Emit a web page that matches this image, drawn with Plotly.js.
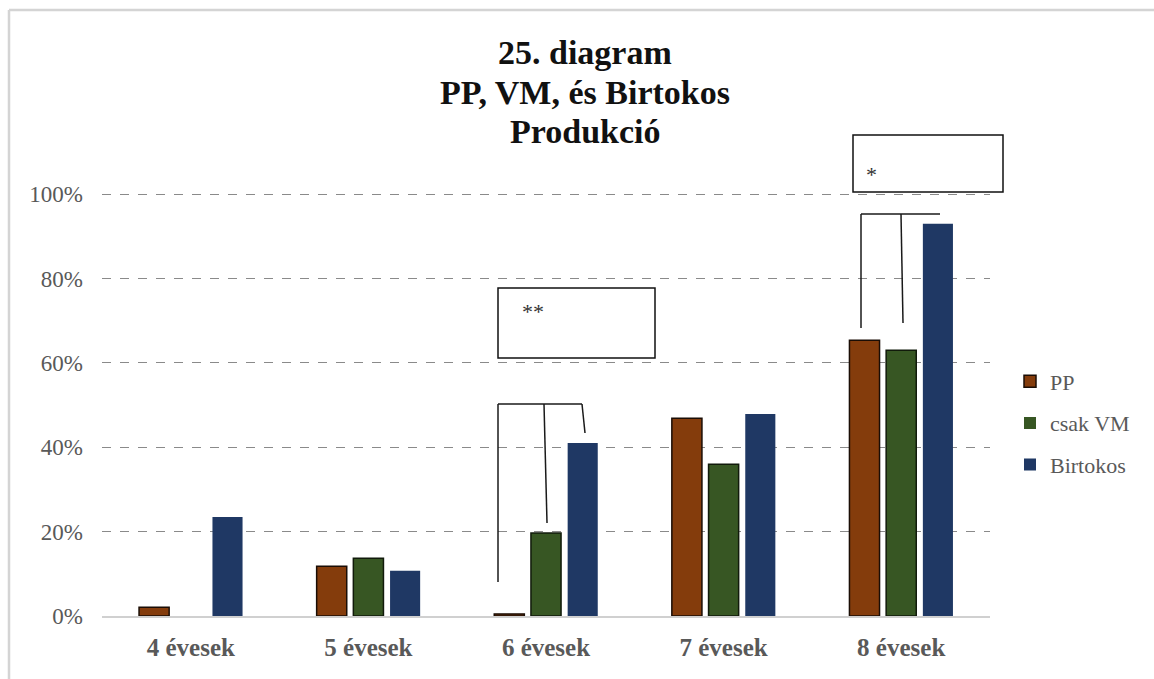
<!DOCTYPE html>
<html>
<head>
<meta charset="utf-8">
<script src="https://cdn.plot.ly/plotly-3.0.1.min.js"></script>
<style>html,body{margin:0;padding:0;background:#fff;}#chart{width:1154px;height:679px;}</style>
</head>
<body>
<div id="chart"></div>
<script>
const categories = ["4 évesek", "5 évesek", "6 évesek", "7 évesek", "8 évesek"];
const seriesNames = ["PP", "csak VM", "Birtokos"];
const ppValues = [0.021, 0.118, 0.005, 0.469, 0.654];
const vmValues = [0.0, 0.137, 0.197, 0.360, 0.630];
const birtokosValues = [0.235, 0.107, 0.410, 0.479, 0.930];
const yTickValues = [0, 0.2, 0.4, 0.6, 0.8, 1.0];
const titleLines = ["25. diagram", "PP, VM, és Birtokos", "Produkció"];

const colors = ["#843C0C", "#375623", "#1F3864"];
const outlineColors = ["#1a0d05", "#111a0b", "#1F3864"];
const outlineWidths = [1.5, 1.5, 0];
const allValues = [ppValues, vmValues, birtokosValues];

const traces = allValues.map((vals, i) => ({
  type: "bar",
  name: seriesNames[i],
  x: categories,
  y: vals,
  legendgroup: "g" + i,
  marker: {
    color: colors[i],
    line: {color: outlineColors[i], width: vals.map(v => v > 0 ? outlineWidths[i] : 0)}
  },
  hoverinfo: "x+y+name"
}));

const lineStyle = {color: "#1a1a1a", width: 1.5};
// plot area in px: x 102..990, y 131..616
const L = 102, R = 990, T = 131, B = 616;
const px = v => (v - L) / (R - L);
const py = v => (B - v) / (B - T);

const shapes = [
  {type: "line", xref: "paper", yref: "paper", x0: px(9), x1: px(1160), y0: py(10), y1: py(10), line: {color: "#d4d4d4", width: 2.5}},
  {type: "line", xref: "paper", yref: "paper", x0: px(9), x1: px(9), y0: py(10), y1: py(690), line: {color: "#d4d4d4", width: 2.5}},
  {type: "rect", xref: "paper", yref: "paper", x0: px(498), x1: px(655), y0: py(288), y1: py(358), line: {color: "#111", width: 1.5}, fillcolor: "#ffffff"},
  {type: "line", xref: "paper", yref: "paper", x0: px(498), x1: px(582), y0: py(404), y1: py(404), line: lineStyle},
  {type: "line", xref: "paper", yref: "paper", x0: px(498), x1: px(498), y0: py(404), y1: py(582), line: lineStyle},
  {type: "line", xref: "paper", yref: "paper", x0: px(544), x1: px(547), y0: py(404), y1: py(523), line: lineStyle},
  {type: "line", xref: "paper", yref: "paper", x0: px(582), x1: px(585), y0: py(404), y1: py(433), line: lineStyle},
  {type: "rect", xref: "paper", yref: "paper", x0: px(853), x1: px(1003), y0: py(135), y1: py(192), line: {color: "#111", width: 1.5}, fillcolor: "#ffffff"},
  {type: "line", xref: "paper", yref: "paper", x0: px(861), x1: px(940), y0: py(214), y1: py(214), line: lineStyle},
  {type: "line", xref: "paper", yref: "paper", x0: px(861), x1: px(861), y0: py(214), y1: py(328), line: lineStyle},
  {type: "line", xref: "paper", yref: "paper", x0: px(901), x1: px(903), y0: py(214), y1: py(323), line: lineStyle}
];

const titleFont = {family: "Liberation Serif, Times New Roman, serif", size: 34, color: "#111", weight: "bold"};
const titleCenters = [53, 92, 131];
const annotations = titleLines.map((t, i) => ({
  xref: "paper", yref: "paper", x: px(585), y: py(titleCenters[i]), xanchor: "center", yanchor: "middle",
  text: "<b>" + t + "</b>", showarrow: false, font: titleFont
})).concat([
  {xref: "paper", yref: "paper", x: px(533), y: py(311), text: "**", showarrow: false, font: {family: "Liberation Serif, serif", size: 22, color: "#333"}},
  {xref: "paper", yref: "paper", x: px(879), y: py(160), text: "*", showarrow: false, font: {family: "Liberation Serif, serif", size: 22, color: "#333"}}
]);

const layout = {
  width: 1154, height: 679,
  paper_bgcolor: "#ffffff", plot_bgcolor: "#ffffff",
  margin: {l: L, r: 1154 - R, t: T, b: 679 - B, pad: 0},
  barmode: "group",
  bargap: 0.38,
  bargroupgap: 0.18,
  xaxis: {
    type: "category",
    showgrid: false,
    showline: true, linecolor: "#d0d0d0", linewidth: 1.5,
    ticks: "",
    tickfont: {family: "Liberation Serif, serif", size: 25, color: "#595959", weight: "bold"},
    ticklabelstandoff: 8,
    fixedrange: true
  },
  yaxis: {
    range: [0, 1.15],
    tickvals: yTickValues,
    tickformat: ".0%",
    showgrid: true, gridcolor: "#8a8a8a", gridwidth: 1, griddash: "dash",
    zeroline: false, showline: false,
    ticks: "",
    tickfont: {family: "Liberation Serif, serif", size: 23, color: "#595959"},
    ticklabelstandoff: 18,
    fixedrange: true
  },
  showlegend: true,
  legend: {
    x: 1010 / 1154, xref: "container", xanchor: "left",
    y: py(423), yanchor: "middle",
    font: {family: "Liberation Serif, serif", size: 22, color: "#595959"},
    traceorder: "grouped",
    tracegroupgap: 10,
    itemwidth: 30,
    bgcolor: "rgba(0,0,0,0)"
  },
  shapes: shapes,
  annotations: annotations
};

Plotly.newPlot("chart", traces, layout, {displayModeBar: false, staticPlot: true});
</script>
</body>
</html>
